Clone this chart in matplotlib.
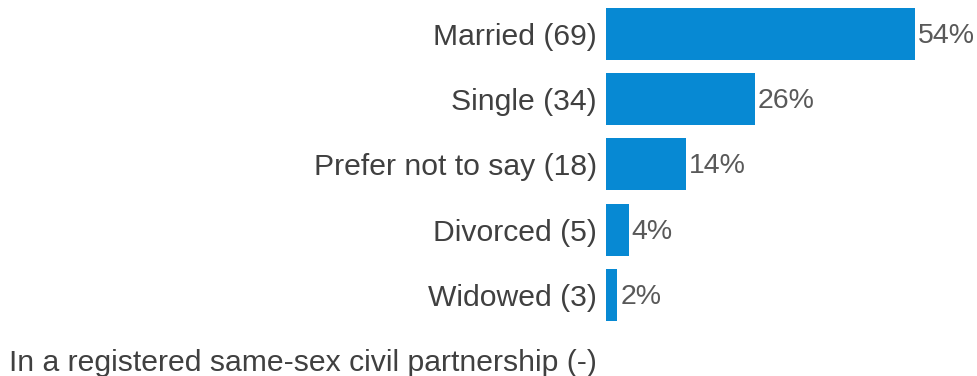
import matplotlib.pyplot as plt

plt.rcParams['font.family'] = ['Liberation Sans', 'DejaVu Sans']

labels = ['Married (69)', 'Single (34)', 'Prefer not to say (18)', 'Divorced (5)',
          'Widowed (3)', 'In a registered same-sex civil partnership (-)']
percents = [54, 26, 14, 4, 2, None]

BAR = '#0789D3'
TEXT = '#404040'
VALUE = '#595959'

fig = plt.figure(figsize=(9.78, 3.76), dpi=100)
ax = fig.add_axes([606 / 978, 0, 372 / 978, 1])

ypos = list(range(len(labels)))
for y, p in zip(ypos, percents):
    if p is None:
        continue
    ax.barh(y, p, height=0.8, color=BAR)
    ax.text(p + 0.5, y + 0.03, f'{p}%', va='center', ha='left', fontsize=20.5, color=VALUE)

ax.set_xlim(0, 65)
ax.set_ylim(5.245, -0.521)
ax.set_yticks(ypos)
ax.set_yticklabels(labels, fontsize=21.7, color=TEXT)
ax.tick_params(axis='y', length=0, pad=6.5)
ax.set_xticks([])
for s in ax.spines.values():
    s.set_visible(False)

fig.savefig('out.png', dpi=100)
